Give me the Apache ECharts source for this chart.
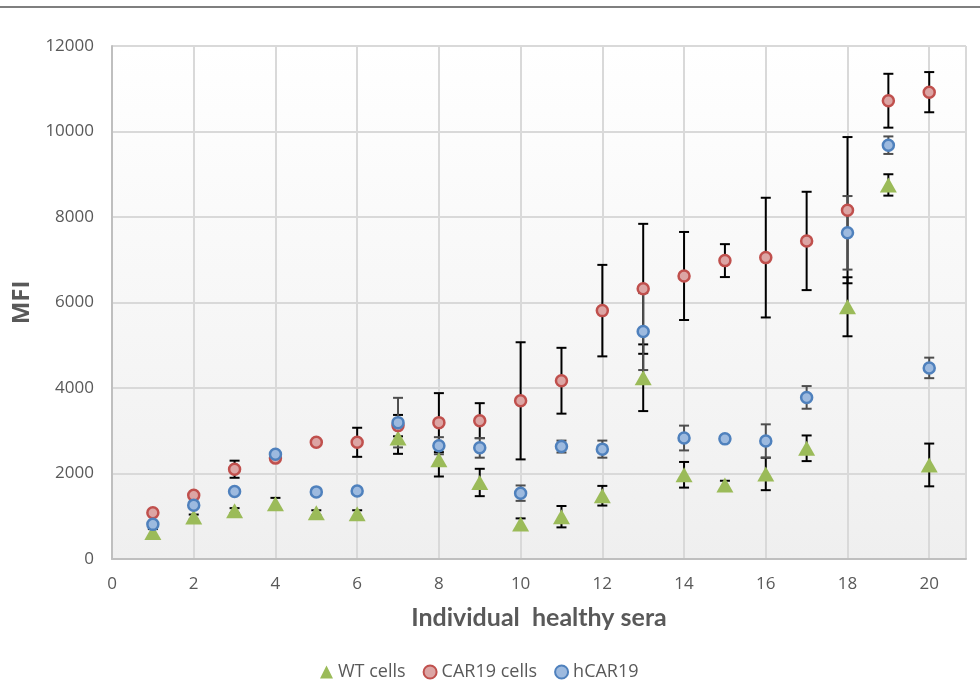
<!DOCTYPE html>
<html>
<head>
<meta charset="utf-8">
<script src="https://cdn.jsdelivr.net/npm/echarts@6/dist/echarts.min.js"></script>
<style>html,body{margin:0;padding:0;background:#fff}#chart{width:980px;height:700px}</style>
</head>
<body>
<div id="chart"></div>
<script>
const categories = [1,2,3,4,5,6,7,8,9,10,11,12,13,14,15,16,17,18,19,20];
const wtValues    = [620, 980, 1130, 1290, 1080, 1060, 2830, 2320, 1790, 820, 990, 1480, 4240, 1970, 1730, 1990, 2590, 5900, 8750, 2200];
const wtErrors    = [80, 60, 60, 140, 60, 80, 370, 390, 320, 130, 250, 230, 780, 300, 100, 380, 300, 690, 250, 500];
const car19Values = [1080, 1490, 2100, 2360, 2730, 2730, 3120, 3190, 3235, 3700, 4170, 5810, 6320, 6620, 6980, 7050, 7440, 8160, 10720, 10920];
const car19Errors = [60, 40, 200, 40, 40, 340, 250, 690, 410, 1370, 770, 1070, 1520, 1030, 385, 1400, 1150, 1710, 630, 470];
const hcarValues  = [810, 1260, 1580, 2450, 1570, 1590, 3190, 2650, 2600, 1540, 2630, 2570, 5320, 2830, 2810, 2760, 3780, 7630, 9680, 4470];
const hcarErrors  = [40, 60, 50, 40, 40, 40, 580, 200, 230, 180, 140, 200, 900, 290, 60, 390, 265, 860, 205, 240];
const yTicks = [0, 2000, 4000, 6000, 8000, 10000, 12000];
const xTicks = [0, 2, 4, 6, 8, 10, 12, 14, 16, 18, 20];

const textColor = '#595959';
const font = 'Open Sans';

function errorSeries(name, values, errors, color) {
  return {
    type: 'custom',
    name: name + ' error',
    silent: true,
    z: 1,
    encode: { x: 0, y: [1, 2] },
    renderItem: function (params, api) {
      const x = api.value(0), lo = api.value(1), hi = api.value(2);
      const p1 = api.coord([x, hi]);
      const p2 = api.coord([x, lo]);
      const h = 5;
      const st = { stroke: color, lineWidth: 2 };
      return {
        type: 'group',
        children: [
          { type: 'line', shape: { x1: p1[0], y1: p1[1], x2: p2[0], y2: p2[1] }, style: st },
          { type: 'line', shape: { x1: p1[0] - h, y1: p1[1], x2: p1[0] + h, y2: p1[1] }, style: st },
          { type: 'line', shape: { x1: p2[0] - h, y1: p2[1], x2: p2[0] + h, y2: p2[1] }, style: st }
        ]
      };
    },
    data: categories.map((c, i) => [c, values[i] - errors[i], values[i] + errors[i]])
  };
}

const chart = echarts.init(document.getElementById('chart'));
chart.setOption({
  animation: false,
  backgroundColor: '#ffffff',
  textStyle: { fontFamily: font },
  graphic: [{
    type: 'line', shape: { x1: 0, y1: 7, x2: 980, y2: 7 },
    style: { stroke: '#7f7f7f', lineWidth: 2 }, z: 100
  }],
  grid: {
    left: 112, top: 46, right: 14, bottom: 141,
    show: true, borderWidth: 0,
    backgroundColor: new echarts.graphic.LinearGradient(0, 0, 0, 1, [
      { offset: 0, color: '#ffffff' }, { offset: 1, color: '#efefef' }
    ])
  },
  legend: {
    top: 658, left: 315,
    itemWidth: 13, itemHeight: 13, itemGap: 17,
    textStyle: { color: textColor, fontSize: 18, fontFamily: font },
    data: [
      { name: 'WT cells', icon: 'triangle' },
      { name: 'CAR19 cells', icon: 'circle' },
      { name: 'hCAR19', icon: 'circle' }
    ]
  },
  xAxis: {
    type: 'value', min: 0, max: 20.9, interval: 2,
    name: 'Individual  healthy sera', nameLocation: 'middle', nameGap: 46,
    nameTextStyle: { color: textColor, fontSize: 25, fontWeight: 'bold', fontFamily: 'Lato' },
    axisLine: { show: true, lineStyle: { color: '#bfbfbf', width: 2 } },
    axisTick: { show: false },
    axisLabel: {
      color: textColor, fontSize: 17, margin: 17, fontFamily: font,
      formatter: function (v) { return xTicks.indexOf(v) >= 0 ? String(v) : ''; }
    },
    splitLine: { show: true, lineStyle: { color: '#d9d9d9', width: 2 } }
  },
  yAxis: {
    type: 'value', min: yTicks[0], max: yTicks[yTicks.length - 1], interval: 2000,
    name: 'MFI', nameLocation: 'middle', nameGap: 76, nameRotate: 90,
    nameTextStyle: { color: textColor, fontSize: 24, fontWeight: 'bold', fontFamily: font },
    axisLine: { show: true, lineStyle: { color: '#bfbfbf', width: 2 } },
    axisTick: { show: false },
    axisLabel: {
      color: textColor, fontSize: 17, margin: 18, fontFamily: font,
      formatter: function (v) { return String(v); }
    },
    splitLine: { show: true, lineStyle: { color: '#d9d9d9', width: 2 } }
  },
  series: [
    errorSeries('WT cells', wtValues, wtErrors, '#000000'),
    errorSeries('CAR19 cells', car19Values, car19Errors, '#000000'),
    errorSeries('hCAR19', hcarValues, hcarErrors, '#4d4d4d'),
    {
      name: 'WT cells', type: 'scatter', z: 3,
      symbol: 'triangle', symbolSize: [17, 15],
      itemStyle: { color: '#9bbb59', opacity: 1 },
      data: categories.map((c, i) => [c, wtValues[i]])
    },
    {
      name: 'CAR19 cells', type: 'scatter', z: 4,
      symbol: 'circle', symbolSize: 11,
      itemStyle: { color: '#dca5a4', borderColor: '#c0504d', borderWidth: 2.5, opacity: 1 },
      data: categories.map((c, i) => [c, car19Values[i]])
    },
    {
      name: 'hCAR19', type: 'scatter', z: 5,
      symbol: 'circle', symbolSize: 11,
      itemStyle: { color: '#9dbadf', borderColor: '#4f81bd', borderWidth: 2.5, opacity: 1 },
      data: categories.map((c, i) => [c, hcarValues[i]])
    }
  ]
});
</script>
</body>
</html>
